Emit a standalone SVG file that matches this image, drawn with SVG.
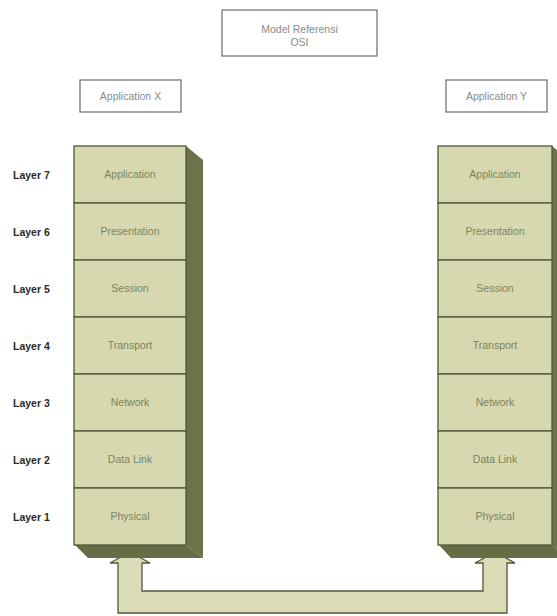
<svg xmlns="http://www.w3.org/2000/svg" width="557" height="616" viewBox="0 0 557 616">
<style>
.lbl{fill:#fff;stroke:#6b6b6b;stroke-width:1.2}
.lt{font-family:"Liberation Sans",Arial,sans-serif;font-size:10.5px;fill:#8a8a8a;text-anchor:middle}
.face{fill:#d7d8b0;stroke:#4e5838;stroke-width:1.3}
.side{fill:#6c7349}
.bot{fill:#666d44}
.rt{font-family:"Liberation Sans",Arial,sans-serif;font-size:10.5px;fill:#7a845e;text-anchor:middle}
.lay{font-family:"Liberation Sans",Arial,sans-serif;font-size:10.5px;font-weight:bold;fill:#2a2a2a}
.arrow{fill:#dcdcb8;stroke:#4e5838;stroke-width:1.3}
</style>
<rect width="557" height="616" fill="#fff"/>
<g id="title"><rect class="lbl" x="222" y="10" width="155" height="46"/><text class="lt" x="299.5" y="33">Model Referensi</text><text class="lt" x="299.5" y="46">OSI</text></g>
<g id="appx"><rect class="lbl" x="80" y="80" width="101" height="32"/><text class="lt" x="130.5" y="100">Application X</text></g>
<g id="appy"><rect class="lbl" x="446" y="80" width="101" height="32"/><text class="lt" x="496.5" y="100">Application Y</text></g>
<g id="connectors">
<polygon class="arrow" points="130,552 150,563 142,563 142,591 483,591 483,563 475,563 495,552 515,563 507,563 507,613 118,613 118,563 110,563"/>
</g>
<g id="stack-x">
<polygon class="side" points="186,146 203,160 203,558 186,545"/>
<polygon class="bot" points="75,545 186,545 203,558 88,558"/>
<rect class="face" x="74" y="146" width="112" height="57"/>
<rect class="face" x="74" y="203" width="112" height="57"/>
<rect class="face" x="74" y="260" width="112" height="57"/>
<rect class="face" x="74" y="317" width="112" height="57"/>
<rect class="face" x="74" y="374" width="112" height="57"/>
<rect class="face" x="74" y="431" width="112" height="57"/>
<rect class="face" x="74" y="488" width="112" height="57"/>
<text class="rt" x="130" y="178">Application</text>
<text class="rt" x="130" y="235">Presentation</text>
<text class="rt" x="130" y="292">Session</text>
<text class="rt" x="130" y="349">Transport</text>
<text class="rt" x="130" y="406">Network</text>
<text class="rt" x="130" y="463">Data Link</text>
<text class="rt" x="130" y="520">Physical</text>
</g>
<g id="stack-y">
<polygon class="side" points="552,146 569,160 569,558 552,545"/>
<polygon class="bot" points="439,545 552,545 569,558 451,558"/>
<rect class="face" x="438" y="146" width="114" height="57"/>
<rect class="face" x="438" y="203" width="114" height="57"/>
<rect class="face" x="438" y="260" width="114" height="57"/>
<rect class="face" x="438" y="317" width="114" height="57"/>
<rect class="face" x="438" y="374" width="114" height="57"/>
<rect class="face" x="438" y="431" width="114" height="57"/>
<rect class="face" x="438" y="488" width="114" height="57"/>
<text class="rt" x="495" y="178">Application</text>
<text class="rt" x="495" y="235">Presentation</text>
<text class="rt" x="495" y="292">Session</text>
<text class="rt" x="495" y="349">Transport</text>
<text class="rt" x="495" y="406">Network</text>
<text class="rt" x="495" y="463">Data Link</text>
<text class="rt" x="495" y="520">Physical</text>
</g>
<g id="layers">
<text class="lay" x="13" y="179">Layer 7</text>
<text class="lay" x="13" y="236">Layer 6</text>
<text class="lay" x="13" y="293">Layer 5</text>
<text class="lay" x="13" y="350">Layer 4</text>
<text class="lay" x="13" y="407">Layer 3</text>
<text class="lay" x="13" y="464">Layer 2</text>
<text class="lay" x="13" y="521">Layer 1</text>
</g>
</svg>
